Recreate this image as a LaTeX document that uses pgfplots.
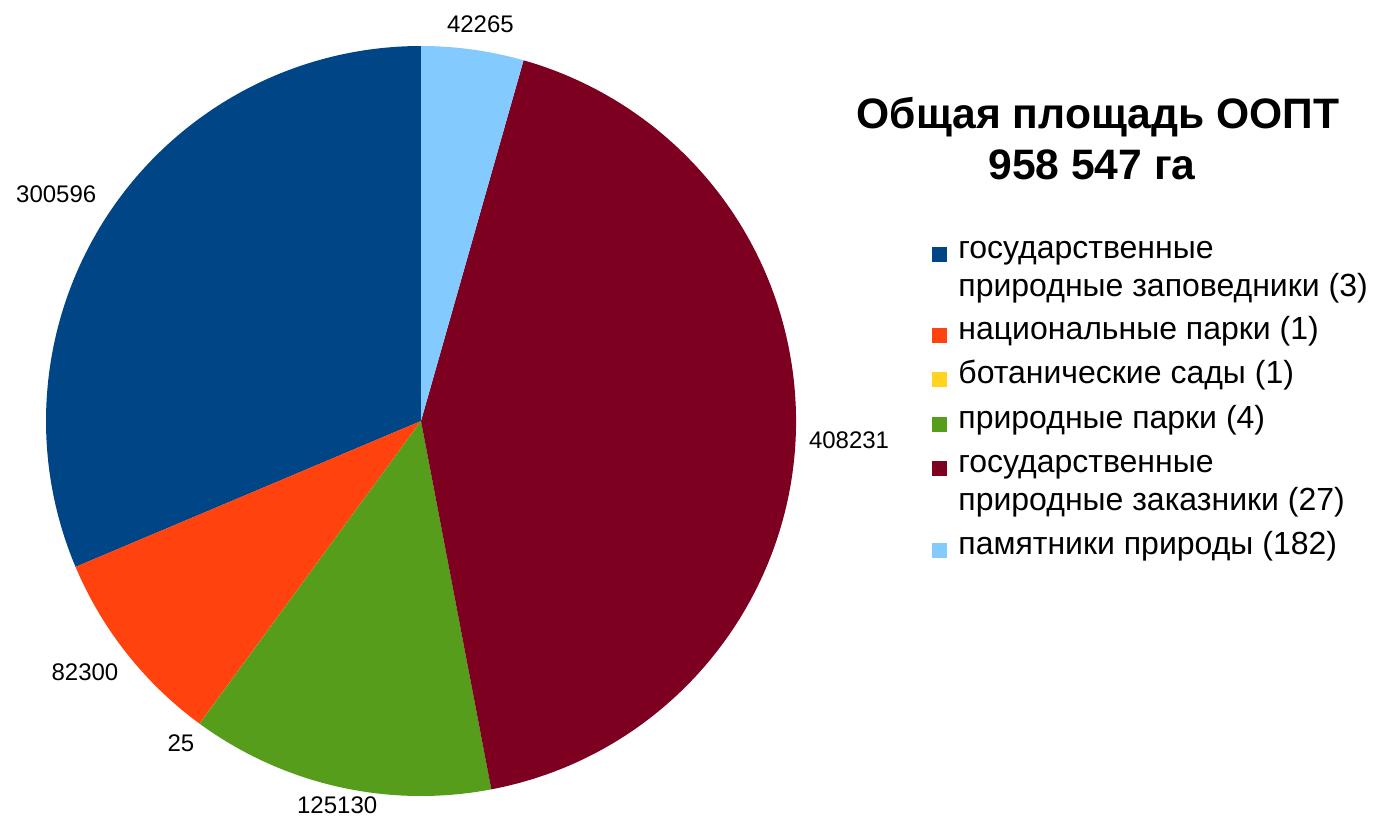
\documentclass[border=0pt]{standalone}
\usepackage{pgfplots}
\pgfplotsset{compat=1.18}
\usepackage{pgfplotstable}
\usepackage{fontspec}
\setmainfont{Liberation Sans}
\definecolor{c1}{HTML}{004586}
\definecolor{c2}{HTML}{FF420E}
\definecolor{c3}{HTML}{FFD320}
\definecolor{c4}{HTML}{579D1C}
\definecolor{c5}{HTML}{7E0021}
\definecolor{c6}{HTML}{83CAFF}
\newcommand\labelfont{\fontsize{12}{14}\selectfont}
\newcommand\legfont{\fontsize{16}{19}\selectfont}
% value, colour, label distance (px), label angle shift (deg)
\pgfplotstableread{
value  col lr  da
300596 c1  410 1.8
82300  c2  402 -1.6
25     c3  388 -0.5
125130 c4  382 0.4
408231 c5  386 0
42265  c6  390 -0.6
}\piedata
\begin{document}
\begin{tikzpicture}
\begin{axis}[
  scale only axis, width=687.5pt, height=410.5pt,
  xmin=0, xmax=1375, ymin=0, ymax=821, y dir=reverse,
  hide axis, clip=false]
% total
\def\total{0}
\pgfplotsforeachungrouped \i in {0,...,5}{%
  \pgfplotstablegetelem{\i}{value}\of\piedata
  \xdef\total{\fpeval{\total+\pgfplotsretval}}%
}
\def\cum{90}
\pgfplotsforeachungrouped \i in {0,...,5}{%
  \pgfplotstablegetelem{\i}{value}\of\piedata \let\v\pgfplotsretval
  \pgfplotstablegetelem{\i}{col}\of\piedata \let\c\pgfplotsretval
  \pgfplotstablegetelem{\i}{lr}\of\piedata \let\lr\pgfplotsretval
  \pgfplotstablegetelem{\i}{da}\of\piedata \let\da\pgfplotsretval
  \edef\ang{\fpeval{\v/\total*360}}%
  \edef\mid{\fpeval{\cum+\ang/2}}%
  \edef\lmid{\fpeval{\mid+\da}}%
  \edef\anc{\fpeval{\mid+180-360*floor((\mid+180)/360)}}%
  \edef\temp{\noexpand\fill[\c] (axis cs:421,421) -- ++(\cum:187.5pt)
     arc[start angle=\cum, delta angle=\ang, radius=187.5pt] -- cycle;
     \noexpand\path (axis cs:421,421) ++(\lmid:\fpeval{\lr/2}pt)
     node[anchor=\anc, inner sep=1pt, font=\noexpand\labelfont] {\v};}%
  \temp
  \edef\cum{\fpeval{\cum+\ang}}%
}
% title
\node[font=\bfseries\fontsize{21.3}{24}\selectfont] at (axis cs:1098,117) {Общая площадь ООПТ};
\node[font=\bfseries\fontsize{21.3}{24}\selectfont] at (axis cs:1092,165) {958 547 га};
% legend
\fill[c1] (axis cs:932,247) rectangle (axis cs:947,262);
\fill[c2] (axis cs:932,328) rectangle (axis cs:947,343);
\fill[c3] (axis cs:932,372) rectangle (axis cs:947,387);
\fill[c4] (axis cs:932,417) rectangle (axis cs:947,432);
\fill[c5] (axis cs:932,461) rectangle (axis cs:947,476);
\fill[c6] (axis cs:932,543) rectangle (axis cs:947,558);
\node[anchor=base west, inner sep=0pt, font=\legfont] at (axis cs:958,258) {государственные};
\node[anchor=base west, inner sep=0pt, font=\legfont] at (axis cs:958,296) {природные заповедники (3)};
\node[anchor=base west, inner sep=0pt, font=\legfont] at (axis cs:958,339) {национальные парки (1)};
\node[anchor=base west, inner sep=0pt, font=\legfont] at (axis cs:958,383) {ботанические сады (1)};
\node[anchor=base west, inner sep=0pt, font=\legfont] at (axis cs:958,428) {природные парки (4)};
\node[anchor=base west, inner sep=0pt, font=\legfont] at (axis cs:958,472) {государственные};
\node[anchor=base west, inner sep=0pt, font=\legfont] at (axis cs:958,510) {природные заказники (27)};
\node[anchor=base west, inner sep=0pt, font=\legfont] at (axis cs:958,554) {памятники природы (182)};
\end{axis}
\pgfresetboundingbox
\path (current axis.south west) rectangle (current axis.north east);
\end{tikzpicture}
\end{document}
